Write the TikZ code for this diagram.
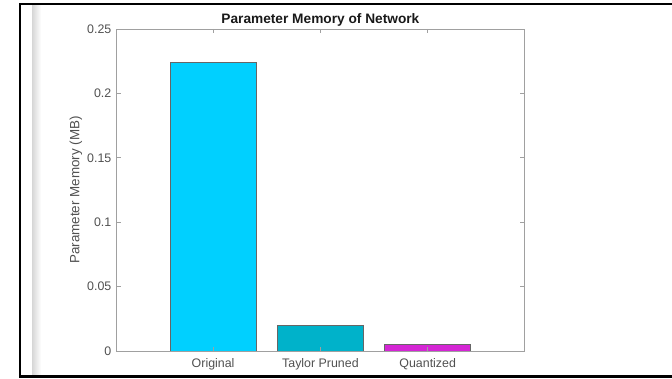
\documentclass[tikz,border=0pt]{standalone}
\usepackage{fontspec}
\setmainfont{Liberation Sans}
\definecolor{origcol}{RGB}{0,208,255}
\definecolor{taylorcol}{RGB}{0,178,202}
\definecolor{quantcol}{RGB}{212,38,212}
\definecolor{axiscol}{RGB}{160,160,160}
\definecolor{labelcol}{RGB}{80,80,80}
\tikzset{
  bar/.style={draw=black!60, line width=0.7pt},
  axisline/.style={draw=axiscol, line width=0.9pt},
  ticklab/.style={text=labelcol, inner sep=0pt, font=\fontsize{12.4}{14}\selectfont},
  axlab/.style={text=labelcol, inner sep=0pt, font=\fontsize{13.4}{15}\selectfont},
  plottitle/.style={text=black!90, inner sep=0pt, font=\bfseries\fontsize{13.7}{16}\selectfont}
}
\begin{document}
\begin{tikzpicture}[x=1pt, y=1pt]
    \useasboundingbox (0,0) rectangle (672,378);
    % window frame
    \shade[left color=black!16, right color=white] (32,1.5) rectangle (41,374);
    \draw[line width=2.5pt] (672,374) -- (20,374) -- (20,1.5) -- (672,1.5);
    % chart, data units
    \begin{scope}[shift={(105.8,27)}, x=107.3pt, y=1288pt]
        \coordinate (ll) at (0.1,0);
        \coordinate (ur) at (3.9,0.25);
        \foreach \i/\val/\col in {1/0.2244/origcol, 2/0.0202/taylorcol, 3/0.0052/quantcol}
            \filldraw[bar, fill=\col] (\i-0.4,0) rectangle (\i+0.4,\val);
        \draw[axisline] (ll) rectangle (ur);
        \foreach \i/\name/\txt in {1/orig/Original, 2/taylor/Taylor Pruned, 3/quant/Quantized} {
            \draw[axisline] (\i,0) -- ++(0,4pt);
            \draw[axisline] (\i,0.25) -- ++(0,-4pt);
            \node[ticklab, anchor=base] (\name) at ([yshift=-16.5pt]\i,0) {\txt};
        }
        \foreach \v/\lab in {0/0, 0.05/0.05, 0.1/0.1, 0.15/0.15, 0.2/0.2, 0.25/0.25} {
            \draw[axisline] (0.1,\v) -- ++(4pt,0);
            \draw[axisline] (3.9,\v) -- ++(-4pt,0);
            \node[ticklab, anchor=east] (y\lab) at ([xshift=-5pt]0.1,\v) {\lab};
        }
        \node[axlab, rotate=90] (ylabel) at ([xshift=-40.5pt]0.1,0.125) {Parameter Memory (MB)};
        \node[plottitle, anchor=base] (title) at ([yshift=5.5pt]2,0.25) {Parameter Memory of Network};
    \end{scope}
\end{tikzpicture}
\end{document}
